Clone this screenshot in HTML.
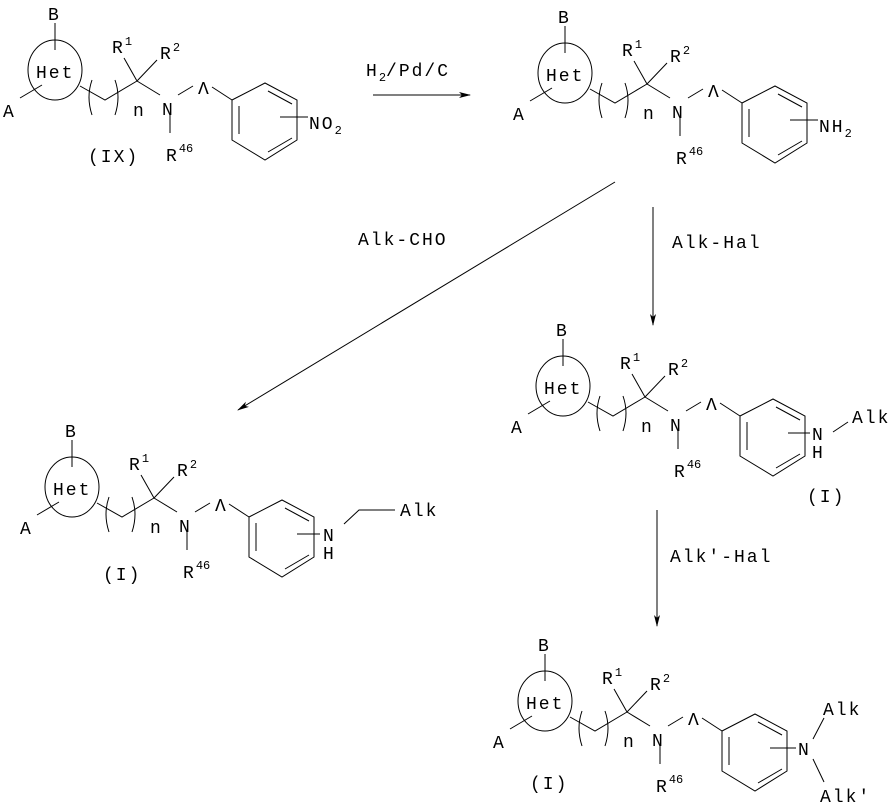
<!DOCTYPE html>
<html><head><meta charset="utf-8"><style>
html,body{margin:0;padding:0;background:#fff;}
svg{display:block;}
svg text{font-family:"Liberation Mono","DejaVu Sans Mono",monospace;font-size:18px;letter-spacing:2px;fill:#000;}
svg text .s, svg .s{font-size:12px;letter-spacing:0;}
</style></head><body>
<svg width="893" height="811" viewBox="0 0 893 811" xmlns="http://www.w3.org/2000/svg" font-family="Liberation Mono, DejaVu Sans Mono, monospace">
<defs>
<marker id="ah" markerWidth="12" markerHeight="8" refX="11" refY="4" orient="auto" markerUnits="userSpaceOnUse">
<path d="M0,1 L12,4 L0,7 L3,4 Z" fill="#000"/>
</marker>
<g id="core" fill="none" stroke="#000" stroke-width="1">
<ellipse cx="55" cy="70" rx="27" ry="30"/>
<line x1="55" y1="23" x2="55" y2="50"/>
<line x1="20" y1="98" x2="42" y2="85"/>
<polyline points="80,86 105,100 137,81"/>
<path d="M92,80 Q86,97 92,115"/>
<path d="M115,80 Q121,97 115,115"/>
<line x1="124" y1="58" x2="137" y2="81"/>
<line x1="137" y1="81" x2="157" y2="60"/>
<line x1="137" y1="81" x2="160" y2="95"/>
<line x1="178" y1="95" x2="193" y2="86"/>
<line x1="212" y1="87" x2="232" y2="100"/>
<line x1="170" y1="113" x2="170" y2="133"/>
<polygon points="232,100 265,83 297,100 297,140 265,160 232,140"/>
<line x1="239" y1="106" x2="239" y2="134"/>
<line x1="268" y1="91" x2="292" y2="104"/>
<line x1="268" y1="152" x2="292" y2="138"/>
<line x1="280" y1="117" x2="297" y2="117"/>
</g>
</defs>

<g transform="translate(0,0)">
<use href="#core"/>
<line x1="297" y1="117" x2="308" y2="117" stroke="#000"/>
<text x="48" y="20">B</text><text x="36" y="78">Het</text><text x="3" y="117">A</text>
<text x="112" y="53">R<tspan class="s" dy="-8">1</tspan></text>
<text x="160" y="59">R<tspan class="s" dy="-8">2</tspan></text>
<text x="133" y="116">n</text><text x="162" y="115">N</text><text x="198" y="94">Λ</text>
<text x="166" y="161">R<tspan class="s" dy="-9">46</tspan></text>
<text x="88" y="162">(IX)</text>
<text x="309" y="129">NO<tspan class="s" dy="5">2</tspan></text>
</g>

<g transform="translate(510,3)">
<use href="#core"/>
<line x1="297" y1="117" x2="308" y2="117" stroke="#000"/>
<text x="48" y="20">B</text><text x="36" y="78">Het</text><text x="3" y="117">A</text>
<text x="112" y="53">R<tspan class="s" dy="-8">1</tspan></text>
<text x="160" y="59">R<tspan class="s" dy="-8">2</tspan></text>
<text x="133" y="116">n</text><text x="162" y="115">N</text><text x="198" y="94">Λ</text>
<text x="166" y="161">R<tspan class="s" dy="-9">46</tspan></text>
<text x="309" y="129">NH<tspan class="s" dy="5">2</tspan></text>
</g>

<g transform="translate(508,316)">
<use href="#core"/>
<line x1="297" y1="117" x2="302" y2="117" stroke="#000"/>
<text x="304" y="124">N</text><text x="304" y="142">H</text>
<line x1="325" y1="116" x2="340" y2="106" stroke="#000"/>
<text x="48" y="20">B</text><text x="36" y="78">Het</text><text x="3" y="117">A</text>
<text x="112" y="53">R<tspan class="s" dy="-8">1</tspan></text>
<text x="160" y="59">R<tspan class="s" dy="-8">2</tspan></text>
<text x="133" y="116">n</text><text x="162" y="115">N</text><text x="198" y="94">Λ</text>
<text x="166" y="161">R<tspan class="s" dy="-9">46</tspan></text>
<text x="344" y="107">Alk</text>
<text x="299" y="186">(I)</text>
</g>

<g transform="translate(17,417)">
<use href="#core"/>
<line x1="297" y1="117" x2="303" y2="117" stroke="#000"/>
<text x="48" y="20">B</text><text x="36" y="78">Het</text><text x="3" y="117">A</text>
<text x="112" y="53">R<tspan class="s" dy="-8">1</tspan></text>
<text x="160" y="59">R<tspan class="s" dy="-8">2</tspan></text>
<text x="133" y="116">n</text><text x="162" y="115">N</text><text x="198" y="94">Λ</text>
<text x="166" y="161">R<tspan class="s" dy="-9">46</tspan></text>
<text x="306" y="124">N</text><text x="306" y="142">H</text>
<polyline points="327,107 342,93 378,93" fill="none" stroke="#000"/>
<text x="383" y="99">Alk</text>
<text x="86" y="163">(I)</text>
</g>

<g transform="translate(490,631)">
<use href="#core"/>
<text x="48" y="20">B</text><text x="36" y="78">Het</text><text x="3" y="117">A</text>
<text x="112" y="53">R<tspan class="s" dy="-8">1</tspan></text>
<text x="160" y="59">R<tspan class="s" dy="-8">2</tspan></text>
<text x="133" y="116">n</text><text x="162" y="115">N</text><text x="198" y="94">Λ</text>
<text x="166" y="161">R<tspan class="s" dy="-9">46</tspan></text>
<line x1="297" y1="117" x2="306" y2="117" stroke="#000"/>
<text x="308" y="124">N</text>
<line x1="323" y1="108" x2="334" y2="87" stroke="#000"/>
<line x1="323" y1="128" x2="334" y2="151" stroke="#000"/>
<text x="333" y="84">Alk</text>
<text x="330" y="171">Alk'</text>
<text x="40" y="158">(I)</text>
</g>

<line x1="373" y1="95" x2="470" y2="95" stroke="#000" marker-end="url(#ah)"/>
<text x="366" y="76">H<tspan class="s" dy="5">2</tspan><tspan dy="-5">/Pd/C</tspan></text>
<line x1="653" y1="207" x2="653" y2="325" stroke="#000" marker-end="url(#ah)"/>
<text x="672" y="248">Alk-Hal</text>
<line x1="615" y1="182" x2="238" y2="410" stroke="#000" marker-end="url(#ah)"/>
<text x="358" y="245">Alk-CHO</text>
<line x1="657" y1="510" x2="657" y2="626" stroke="#000" marker-end="url(#ah)"/>
<text x="670" y="562">Alk'-Hal</text>
</svg>
</body></html>
